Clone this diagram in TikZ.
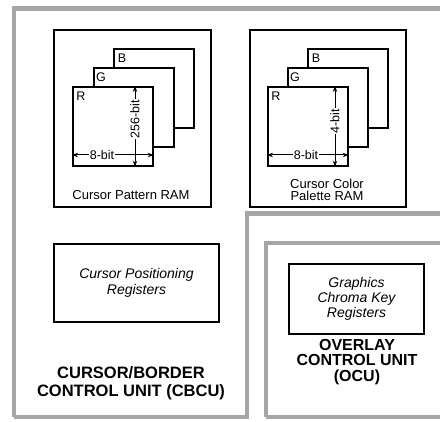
\documentclass[tikz,border=0pt]{standalone}
\usepackage{fontspec}
\setmainfont{Liberation Sans}
\usetikzlibrary{arrows.meta}
\begin{document}
\begin{tikzpicture}[x=1pt,y=-1pt,
  band/.style={line width=4.5pt, draw=black!35},
  unitbox/.style={draw, line width=2pt, fill=white, inner sep=0pt},
  layer/.style={draw, line width=1.7pt, fill=white, minimum width=80pt, minimum height=79pt, anchor=north west, inner sep=0pt},
  lay/.style={font=\fontsize{12.5}{12}\selectfont, inner sep=0pt},
  dim/.style={line width=1pt, {Stealth[length=6pt,width=4.5pt]}-{Stealth[length=6pt,width=4.5pt]}},
  dimlabel/.style={font=\fontsize{12.5}{12}\selectfont, fill=white, inner sep=1.2pt},
  caption/.style={font=\fontsize{13}{12.5}\selectfont, align=center, inner sep=0pt},
  italic/.style={font=\fontsize{14}{16}\selectfont\itshape, align=center, inner sep=0pt},
  unitname/.style={font=\fontsize{16.5}{17.5}\selectfont\bfseries, align=center, inner sep=0pt}]
\useasboundingbox (0,0) rectangle (440,422);
% unit frames (dotted halftone bands)
\draw[band] (14,417) -- (14,8.5) -- (446,8.5);
\draw[band] (446,213.5) -- (247,213.5) -- (247,417) -- (14,417);
\draw[band] (266,417) -- (266,243) -- (446,243);
\draw[band] (266,417) -- (446,417);
% Cursor Pattern RAM
\node[unitbox, minimum width=157pt, minimum height=177pt, anchor=north west] (pram) at (53,29) {};
\node[layer] (pB) at (113,48) {};
\node[layer] (pG) at (93,67) {};
\node[layer] (pR) at (72,86) {};
\node[lay] (pBl) at (122,58) {B};
\node[lay] (pGl) at (101,77) {G};
\node[lay] (pRl) at (81,96) {R};
\coordinate (ph1) at (pR.west |- 0,155);
\coordinate (ph2) at (pR.east |- 0,155);
\coordinate (pv1) at (135,0 |- pR.north);
\coordinate (pv2) at (135,0 |- pR.south);
\draw[dim] (ph1) -- (ph2);
\draw[dim] (pv1) -- (pv2);
\node[dimlabel] (pw) at (102,155) {8-bit};
\node[dimlabel, rotate=90] (ph) at (135,119) {256-bit};
\node[caption] (pcap) at (131,195) {Cursor Pattern RAM};
% Cursor Color Palette RAM
\node[unitbox, minimum width=156pt, minimum height=177pt, anchor=north west] (cram) at (249,29) {};
\node[layer] (cB) at (307,48) {};
\node[layer] (cG) at (287,67) {};
\node[layer] (cR) at (267,86) {};
\node[lay] (cBl) at (316,58) {B};
\node[lay] (cGl) at (295,77) {G};
\node[lay] (cRl) at (276,96) {R};
\coordinate (ch1) at (cR.west |- 0,155);
\coordinate (ch2) at (cR.east |- 0,155);
\coordinate (cv1) at (335,0 |- cR.north);
\coordinate (cv2) at (335,0 |- cR.south);
\draw[dim] (ch1) -- (ch2);
\draw[dim] (cv1) -- (cv2);
\node[dimlabel] (cw) at (306,155) {8-bit};
\node[dimlabel, rotate=90] (chh) at (335,121) {4-bit};
\node[caption] (ccap) at (327,190) {Cursor Color\\Palette RAM};
% Cursor Positioning Registers
\node[unitbox, minimum width=165pt, minimum height=78pt, anchor=north west] (cpr) at (53,243) {};
\node[italic] (cprt) at (cpr.center) {Cursor Positioning\\Registers};
\node[unitname] (cbcu) at (131,383) {CURSOR/BORDER\\CONTROL UNIT (CBCU)};
% Graphics Chroma Key Registers
\node[unitbox, minimum width=135pt, minimum height=70pt, anchor=north west] (gck) at (288,263) {};
\node[caption, font=\fontsize{14}{15}\selectfont\itshape] (gckt) at (gck.center) {Graphics\\Chroma Key\\Registers};
\node[unitname, font=\fontsize{16}{15.5}\selectfont\bfseries] (ocu) at (357,362) {OVERLAY\\CONTROL UNIT\\(OCU)};
\end{tikzpicture}
\end{document}
